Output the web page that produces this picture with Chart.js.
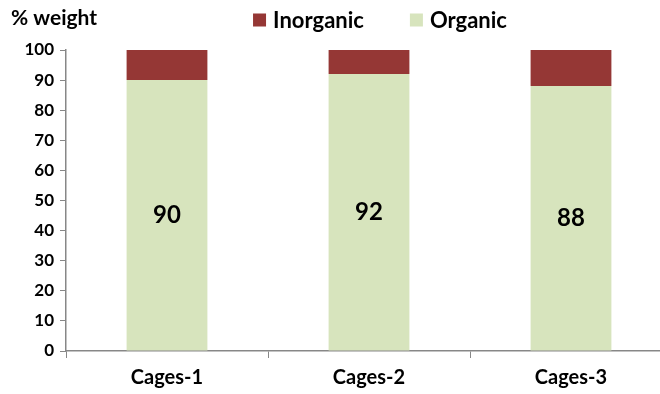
<!DOCTYPE html>
<html>
<head>
<meta charset="utf-8">
<script src="https://cdn.jsdelivr.net/npm/chart.js@4"></script>
<style>
  html, body { margin: 0; padding: 0; background: #fff; overflow: hidden; }
  #wrap { width: 672px; height: 394px; }
</style>
</head>
<body>
<div id="wrap"><canvas id="myChart"></canvas></div>
<script>
    // composition per cage, % of total weight
    var cages = ['Cages-1', 'Cages-2', 'Cages-3']
    var organic = [90, 92, 88]
    var inorganic = [10, 8, 12]
    var yTicks = [0, 10, 20, 30, 40, 50, 60, 70, 80, 90, 100]

    var axisColor = '#878787'
    var family = 'Lato, "Open Sans", sans-serif'

    // legend row (Inorganic first), axis caption and values inside the organic bars
    var extraText = {
        id: 'extraText',
        afterDatasetsDraw: function (chart) {
            var ctx = chart.ctx
            var area = chart.chartArea
            ctx.save()
            ctx.fillStyle = '#000'
            ctx.textBaseline = 'middle'

            ctx.font = 'bold 21px ' + family
            ctx.textAlign = 'left'
            ctx.fillText('% weight', 11, 18)

            // legend
            ctx.font = 'bold 22px ' + family
            var items = chart.data.datasets.slice().reverse()
            var box = 13, textGap = 7, itemGap = 46
            var total = 0
            items.forEach(function (ds, i) {
                total += box + textGap + ctx.measureText(ds.label).width
                if (i > 0) total += itemGap
            })
            var x = (area.left + area.right) / 2 + 11 - total / 2
            var y = 20
            items.forEach(function (ds) {
                ctx.fillStyle = ds.backgroundColor
                ctx.fillRect(x, y - box / 2, box, box)
                x += box + textGap
                ctx.fillStyle = '#000'
                ctx.fillText(ds.label, x, y + 1)
                x += ctx.measureText(ds.label).width + itemGap
            })

            ctx.font = 'bold 24px ' + family
            ctx.textAlign = 'center'
            var meta = chart.getDatasetMeta(0)
            meta.data.forEach(function (bar, i) {
                var yy = chart.scales.y.getPixelForValue(organic[i] / 2)
                ctx.fillText(String(organic[i]), bar.x, yy)
            })
            ctx.restore()
        }
    }

    var ctx = document.getElementById('myChart').getContext('2d')
    var chart = new Chart(ctx, {
        type: 'bar',
        data: {
            labels: cages,
            datasets: [{
                label: 'Organic',
                data: organic,
                backgroundColor: '#d7e4bd',
                borderWidth: 0
            },
            {
                label: 'Inorganic',
                data: inorganic,
                backgroundColor: '#953735',
                borderWidth: 0
            }]
        },
        options: {
            responsive: true,
            maintainAspectRatio: false,
            animation: false,
            datasets: {
                bar: { categoryPercentage: 0.4, barPercentage: 1 }
            },
            layout: { padding: { top: 50, left: 0, right: 0, bottom: 0 } },
            plugins: {
                legend: { display: false },
                tooltip: { enabled: false }
            },
            scales: {
                x: {
                    stacked: true,
                    border: { color: axisColor, width: 1.5 },
                    grid: {
                        offset: true,
                        drawOnChartArea: false,
                        drawTicks: true,
                        tickLength: 7,
                        color: axisColor
                    },
                    ticks: { color: '#000', font: { family: family, size: 20, weight: 'bold' }, padding: 8 },
                    afterFit: function (scale) { scale.height = 43 }
                },
                y: {
                    stacked: true,
                    min: 0,
                    max: 100,
                    afterBuildTicks: function (scale) {
                        scale.ticks = yTicks.map(function (v) { return { value: v } })
                    },
                    border: { color: axisColor, width: 1.5 },
                    grid: {
                        drawOnChartArea: false,
                        drawTicks: true,
                        tickLength: 6,
                        color: axisColor
                    },
                    ticks: { color: '#000', font: { family: family, size: 17, weight: 'bold' }, padding: 6 },
                    afterFit: function (scale) { scale.width = 66 }
                }
            }
        },
        plugins: [extraText]
    })
</script>
</body>
</html>
